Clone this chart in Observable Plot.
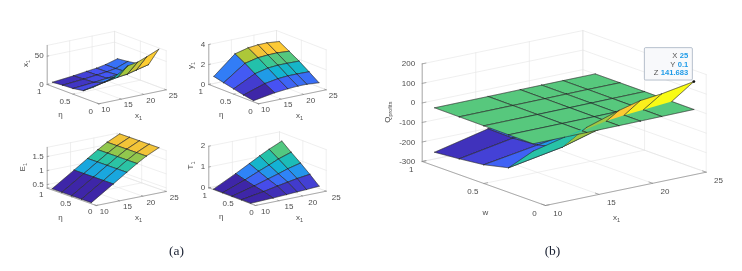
<!DOCTYPE html>
<html><head><meta charset="utf-8">
<style>html,body{margin:0;padding:0;background:#fff}svg{display:block}</style>
<script src="https://cdn.jsdelivr.net/npm/d3@7"></script>
<script src="https://cdn.jsdelivr.net/npm/@observablehq/plot@0.6"></script>
</head><body><div id="chart"></div>
<script>
// ---- data ----
const etaGrid = [0.1, 0.3, 0.5, 0.7, 0.9];
const xGridA = [10, 14.7, 17.6, 19.8, 21.8, 24.5];
const xGridB = [10, 15, 18, 20, 22, 25];
const x1Rows = [
  [26, 36, 51, 54, 60, 69],
  [13, 20, 24, 26, 30, 35],
  [10, 13, 15.5, 18, 20, 30],
  [9, 12, 14.5, 16.5, 19, 27],
  [7.4, 11, 14, 16, 19, 25]];
const y1Rows = [
  [0.12, 0.47, 0.6, 0.66, 0.66, 0.56],
  [0.3, 1.0, 1.22, 1.3, 1.3, 1.27],
  [0.53, 1.6, 1.9, 1.98, 1.98, 1.95],
  [0.76, 2.25, 2.55, 2.62, 2.64, 2.55],
  [1.0, 2.82, 3.15, 3.25, 3.26, 3.14]];
const e1Rows = [
  [0.41, 0.92, 1.24, 1.48, 1.68, 1.89],
  [0.41, 0.92, 1.24, 1.48, 1.68, 1.89],
  [0.41, 0.92, 1.24, 1.48, 1.68, 1.89],
  [0.41, 0.92, 1.24, 1.48, 1.68, 1.89],
  [0.41, 0.92, 1.24, 1.48, 1.68, 1.89]];
const t1Rows = [
  [0.02, 0.06, 0.09, 0.12, 0.14, 0.18],
  [0.02, 0.2, 0.33, 0.42, 0.5, 0.58],
  [0.02, 0.3, 0.5, 0.65, 0.8, 0.95],
  [0.02, 0.42, 0.7, 0.9, 1.1, 1.3],
  [0.02, 0.55, 0.9, 1.17, 1.4, 1.67]];
const qRows = [
  [-44, 21, 73, 101, 113, 141.683],
  [-174.5, -126, -79, -58, -42, -17],
  [-204, -160, -135, -115, -100, -75],
  [-218.6, -170, -150, -132, -118, -95],
  [-230, -167, -152, -138, -125, -105]];
const planeRows = [
  [-6.6, -5.5, -4.6, -3.9, -3, -1.5],
  [-5.6, -4.5, -3.6, -2.9, -2, -0.7],
  [-4.6, -3.5, -2.6, -1.9, -1, 0],
  [-3.6, -2.5, -1.6, -0.9, 0, 0.3],
  [-2.5, -1.5, -0.6, 0, 0.3, 0.6]];
const xTicks = [10, 15, 20, 25];
const etaTicks = [0, 0.5, 1];
const zTicksX1 = [0, 50];
const zTicksY1 = [0, 2, 4];
const zTicksE1 = [0.5, 1, 1.5];
const zTicksT1 = [0, 1, 2];
const zTicksQ = [-300, -200, -100, 0, 100, 200];
const tipValues = [["X", "25"], ["Y", "0.1"], ["Z", "141.683"]];
const tipPoint = [25, 0.1, 141.683];
const parulaStops = [0, 0.125, 0.25, 0.375, 0.5, 0.625, 0.75, 0.875, 1];
const parulaColors = ["#3e26a8", "#4752f4", "#2d87f7", "#12b1d6", "#1fbfb0", "#37c897", "#abc739", "#fec338", "#f9fb15"];

// ---- panel layout (oblique projection of each MATLAB-style 3-D box) ----
const panels = [
  {rows: x1Rows, grid: xGridA, zLab: "x_1", etaLab: "η", zTicks: zTicksX1, zd: [0, 69], zs: 0.567, toneHi: 66,
   front: [98.3, 103.3], xv: [67.4, -14], ev: [-51.6, -19.3],
   off: {x: [7, 5.7], e: [-8, 7.2], z: -3.5, zy: -0.4}, etaPos: [60, 114.3], xPos: [138, 115], zPos: [25, 63]},
  {rows: y1Rows, grid: xGridA, zLab: "y_1", etaLab: "η", zTicks: zTicksY1, zd: [0, 4], zs: 10, toneHi: 2.95,
   front: [258, 103.3], xv: [67.7, -14], ev: [-49.7, -19.3],
   off: {x: [7, 5.7], e: [-8, 7.2], z: -3.5, zy: -0.4}, etaPos: [220.7, 114.3], xPos: [299, 115], zPos: [190, 65]},
  {rows: e1Rows, grid: xGridA, zLab: "E_1", etaLab: "η", zTicks: zTicksE1, zd: [0.37, 1.83], zs: 28,
   front: [95.7, 205], xv: [70, -14], ev: [-49, -17.3],
   off: {x: [8, 6], e: [-6, 6.3], z: -3.5, zy: -0.4}, etaPos: [60, 216.7], xPos: [138, 217], zPos: [21.7, 166.7]},
  {rows: t1Rows, grid: xGridA, zLab: "T_1", etaLab: "η", zTicks: zTicksT1, zd: [0, 2], zs: 20.8,
   front: [255, 205], xv: [70.7, -14.3], ev: [-46.7, -17.7],
   off: {x: [10, 6], e: [-4, 7.2], z: -3.5, zy: -0.4}, etaPos: [220.7, 216], xPos: [299, 216.5], zPos: [190, 165]},
  {rows: qRows, plane: planeRows, grid: xGridB, zLab: "Q_profits", etaLab: "w", zTicks: zTicksQ, zd: [-300, 200], zs: 0.1953, toneHi: 110,
   front: [545, 205], xv: [160.7, -33.3], ev: [-123.3, -44],
   off: {x: [12.3, 8.3], e: [-11, 7.6], z: -7, zy: 0}, etaPos: [485, 212.3], xPos: [616, 216.5], zPos: [386.7, 111.7]}
];
const planeTone = 0.66;

const proj = (p, x, e, z) => [
  p.front[0] + (x - 10) / 15 * p.xv[0] + e * p.ev[0],
  p.front[1] + (x - 10) / 15 * p.xv[1] + e * p.ev[1] - (z - p.zd[0]) * p.zs];

// ---- builders ----
const gridRows = [], axisRows = [], faceRows = [], labels = [];
let id = 0;
function seg(store, p, a, b) {
  id++;
  for (const q of [a, b]) {
    const [px, py] = proj(p, q[0], q[1], q[2]);
    store.push({id, px, py});
  }
}
function clipByDepth(poly, sign) {
  const out = [];
  const n = poly.length;
  for (let i = 0; i < n; i++) {
    const a = poly[i], b = poly[(i + 1) % n];
    const da = a[3] * sign, db = b[3] * sign;
    if (da >= 0) out.push(a);
    if ((da > 0 && db < 0) || (da < 0 && db > 0)) {
      const t = da / (da - db);
      out.push(a.map((v, k) => v + (b[k] - v) * t));
    }
  }
  return out;
}
function emitFace(p, poly, tone, closedEdges) {
  if (poly.length < 3) return;
  id++;
  for (const v of poly) {
    const [px, py] = proj(p, v[0], v[1], v[2]);
    faceRows.push({id, px, py, tone, fo: 1, so: 0});
  }
  for (const [a, b] of closedEdges) {
    id++;
    for (const v of [a, b]) {
      const [px, py] = proj(p, v[0], v[1], v[2]);
      faceRows.push({id, px, py, tone, fo: 0, so: 0.8});
    }
  }
}
function drawSurface(p, rows, toneOf, diffRows, sign) {
  const g = p.grid;
  for (let j = rows.length - 2; j >= 0; j--) {
    for (let i = g.length - 2; i >= 0; i--) {
      const corner = (ii, jj) => [g[ii], etaGrid[jj], rows[jj][ii], diffRows ? rows[jj][ii] - diffRows[jj][ii] : 1];
      const quad = [corner(i, j), corner(i + 1, j), corner(i + 1, j + 1), corner(i, j + 1)];
      const poly = clipByDepth(quad, sign);
      const edges = [];
      quad.forEach((a, k) => {
        const c = clipByDepth([a, quad[(k + 1) % 4]], sign);
        if (c.length >= 2) edges.push([c[0], c[c.length - 1]]);
      });
      emitFace(p, poly, toneOf(rows[j][i]), edges);
    }
  }
}

for (const p of panels) {
  const [z0, z1] = p.zd;
  const zs = [...new Set([z0, ...p.zTicks, z1])];
  for (const x of xTicks) {
    seg(gridRows, p, [x, 1, z0], [x, 1, z1]);
    seg(gridRows, p, [x, 0, z0], [x, 1, z0]);
  }
  for (const e of etaTicks) {
    seg(gridRows, p, [25, e, z0], [25, e, z1]);
    seg(gridRows, p, [10, e, z0], [25, e, z0]);
  }
  for (const z of zs) {
    seg(gridRows, p, [10, 1, z], [25, 1, z]);
    seg(gridRows, p, [25, 1, z], [25, 0, z]);
  }
  seg(axisRows, p, [10, 0, z0], [25, 0, z0]);
  seg(axisRows, p, [10, 0, z0], [10, 1, z0]);
  seg(axisRows, p, [10, 1, z0], [10, 1, z1]);
  for (const x of xTicks) seg(axisRows, p, [x, 0, z0], [x, 0.03, z0]);
  for (const e of etaTicks) seg(axisRows, p, [10, e, z0], [10.35, e, z0]);
  for (const z of p.zTicks) seg(axisRows, p, [10, 1, z], [10.35, 1, z]);

  const flat = p.rows.flat();
  const lo = d3.min(flat), hi = p.toneHi ?? d3.max(flat);
  const toneOf = v => (v - lo) / (hi - lo);
  if (p.plane) {
    drawSurface(p, p.rows, toneOf, p.plane, -1);
    drawSurface(p, p.plane, () => planeTone, null, 1);
    drawSurface(p, p.rows, toneOf, p.plane, 1);
  } else {
    drawSurface(p, p.rows, toneOf, null, 1);
  }

  const put = (pos, text, anchor, extra = {}) =>
    labels.push({px: pos[0], py: pos[1], text, anchor, rot: 0, ...extra});
  for (const x of xTicks) {
    const q = proj(p, x, 0, z0);
    put([q[0] + p.off.x[0], q[1] + p.off.x[1]], String(x), "middle");
  }
  for (const e of etaTicks) {
    const q = proj(p, 10, e, z0);
    put([q[0] + p.off.e[0], q[1] + p.off.e[1]], String(e), "middle");
  }
  for (const z of p.zTicks) {
    const q = proj(p, 10, 1, z);
    put([q[0] + p.off.z, q[1] + p.off.zy], String(z), "end");
  }
  put(p.etaPos, p.etaLab, "middle");
  put(p.xPos, "x_1", "middle");
  put(p.zPos, p.zLab, "middle", {rot: -90});
}

// data tip of the right-hand panel
const pb = panels[4];
const [tipX, tipY] = proj(pb, ...tipPoint);
const tipFont = 7.6;
const tipWidth = s => [...s].reduce((w, c) => w + (c === "." ? 0.278 : 0.556), 0) * tipFont;
const tipBox = [{x1: tipX - 49, x2: tipX - 1, y1: tipY - 33.4, y2: tipY - 1}];
const tipRows = tipValues.map(([k, v], i) => ({
  k, v, px: tipX - 5.6, py: tipY - 25.7 + i * 8.6,
  lx: tipX - 5.6 - tipWidth(v) - 2.4
}));

const anchored = a => labels.filter(d => d.anchor === a && d.rot === 0);
const textStyle = {x: "px", y: "py", text: "text", fill: "#4d4d4d", fontSize: 8, fontFamily: "Liberation Sans"};

const chart = Plot.plot({
  width: 742, height: 271, margin: 0,
  x: {domain: [0, 742], range: [0, 742], axis: null},
  y: {domain: [0, 271], range: [0, 271], axis: null},
  color: {type: "linear", domain: parulaStops, range: parulaColors, clamp: true, legend: false},
  style: {background: "#fff", filter: "blur(0.35px)"},
  marks: [
    Plot.line(gridRows, {x: "px", y: "py", z: "id", stroke: "#e4e4e4", strokeWidth: 0.6}),
    Plot.line(axisRows, {x: "px", y: "py", z: "id", stroke: "#8c8c8c", strokeWidth: 0.7}),
    Plot.line(faceRows, {x: "px", y: "py", z: "id", fill: "tone", fillOpacity: "fo", strokeOpacity: "so",
      stroke: "#262626", strokeWidth: 0.45, curve: "linear-closed"}),
    Plot.text(anchored("middle"), {...textStyle, textAnchor: "middle"}),
    Plot.text(anchored("end"), {...textStyle, textAnchor: "end"}),
    Plot.text(labels.filter(d => d.rot !== 0), {...textStyle, rotate: -90, textAnchor: "middle"}),
    Plot.rect(tipBox, {x1: "x1", x2: "x2", y1: "y1", y2: "y2", fill: "#f8f9fb", stroke: "#9aa6b8", strokeWidth: 0.7, rx: 1.2}),
    Plot.text(tipRows, {x: "px", y: "py", text: "v", fill: "#1e9be8", fontWeight: 700, fontSize: tipFont, textAnchor: "end", fontFamily: "Liberation Sans"}),
    Plot.text(tipRows, {x: "lx", y: "py", text: "k", fill: "#555", fontSize: tipFont, textAnchor: "end", fontFamily: "Liberation Sans"}),
    Plot.dot([tipPoint], {x: () => tipX, y: () => tipY, r: 1.4, fill: "#111"}),
    Plot.text([{t: "(a)", px: 176, py: 250.5}, {t: "(b)", px: 552, py: 250}], {x: "px", y: "py", text: "t", fontSize: 13.5, fill: "#1b2233", fontFamily: "Liberation Serif"})
  ]
});

// subscripts of the axis titles stay real text
d3.select(chart).selectAll("text").each(function () {
  const s = this.textContent;
  if (!s.includes("_")) return;
  const [base, sub] = s.split("_");
  const t = d3.select(this);
  t.text(base);
  t.append("tspan").attr("dy", "0.35em").attr("font-size", sub.length > 1 ? 5.5 : 5.5).text(sub);
});
document.getElementById("chart").append(chart);
</script></body></html>
